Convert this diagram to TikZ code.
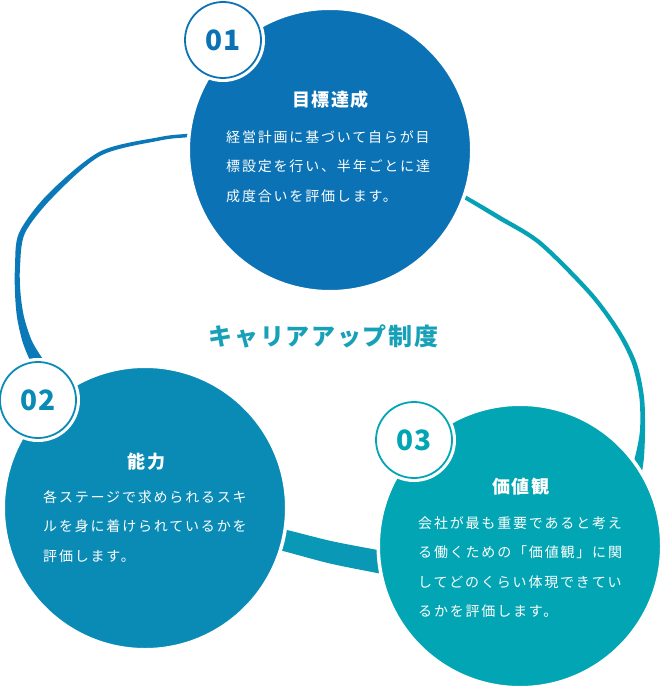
\documentclass[tikz,border=0pt]{standalone}
\usepackage{fontspec}
\newfontfamily\jpbody[LetterSpace=13]{Noto Sans CJK JP}
\newfontfamily\jphead[LetterSpace=8]{Noto Sans CJK JP}
\newfontfamily\jptitle[LetterSpace=7]{Noto Sans CJK JP}
\newfontfamily\numfont{Noto Sans CJK JP}
\definecolor{goalblue}{HTML}{0A72B5}
\definecolor{skillblue}{HTML}{0A8BB6}
\definecolor{valueteal}{HTML}{02A5B3}
\definecolor{ringblue}{HTML}{0B79B8}
\definecolor{ringmid}{HTML}{0998B6}
\definecolor{ringteal}{HTML}{05A2B5}
\definecolor{headteal}{HTML}{17A1B8}

\begin{document}
\begin{tikzpicture}[x=1pt,y=-1pt,
  disc/.style={circle,draw=white,line width=3.5pt,minimum size=283.5pt,inner sep=0pt},
  badge/.style={circle,fill=white,line width=1.8pt,minimum size=76pt,inner sep=0pt,
    preaction={draw=white,line width=8pt},font=\numfont\bfseries\fontsize{28}{28}\selectfont},
  headtext/.style={text=white,inner sep=0pt,font=\jphead\bfseries\fontsize{18}{18}\selectfont},
  bodytext/.style={text=white,inner sep=0pt,align=left,anchor=north west,
    font=\jpbody\fontsize{14}{29.5}\selectfont}]
\useasboundingbox (0,0) rectangle (665,692);
\fill[ringblue] plot[smooth] coordinates {(205,132.3) (185,134) (160,137) (100,151.5) (48,194) (19,233) (15,267) (15,293) (17,317) (22,340) (28.5,357) (38,375)}
  -- plot[smooth] coordinates {(54,373) (41.5,357) (31.5,340) (24,317) (20.5,293) (20,267) (25,233) (53,197) (101,155.5) (160,140.5) (185,137.5) (205,136)} -- cycle;
\fill[ringteal] plot[smooth] coordinates {(450,187.5) (465,195) (500,215.5) (541.5,241.5) (591.5,291.5) (620,330) (636.7,363) (644,397) (645,430) (644,457) (641,478)}
  -- plot[smooth] coordinates {(628,478) (635,457) (640,430) (639.3,397) (631.7,363) (615.5,331) (588.5,294.5) (538.5,244.5) (498,219.5) (463,198.5) (448,191)} -- cycle;
\fill[ringmid] plot[smooth] coordinates {(266,526) (287,530) (331,541) (375,549.5) (394,553)}
  -- plot[smooth] coordinates {(396,577) (377,573) (330,563.5) (283,551) (264,547)} -- cycle;

\node[disc,fill=goalblue] (goal) at (330,150) {};
\node[disc,fill=skillblue] (skill) at (145,508) {};
\node[disc,fill=valueteal] (value) at (520,546) {};

\node[badge,draw=goalblue,text=goalblue] (num1) at (223,40) {01};
\node[badge,draw=skillblue,text=skillblue] (num2) at (38,400) {02};
\node[badge,draw=valueteal,text=valueteal] (num3) at (414,440) {03};

\node[text=headteal,inner sep=0pt,font=\jptitle\bfseries\fontsize{24}{24}\selectfont] (career) at (323.5,336) {キャリアアップ制度};

\node[headtext] (goalhead) at (330.7,100) {目標達成};
\node[bodytext] (goaltext) at (226,130) {経営計画に基づいて自らが目\\標設定を行い、半年ごとに達\\成度合いを評価します。};
\node[headtext] (skillhead) at (146.7,462) {能力};
\node[bodytext] (skilltext) at (43,490) {各ステージで求められるスキ\\ルを身に着けられているかを\\評価します。};
\node[headtext] (valuehead) at (520.7,487) {価値観};
\node[bodytext] (valuetext) at (418,516) {会社が最も重要であると考え\\る働くための「価値観」に関\\してどのくらい体現できてい\\るかを評価します。};
\end{tikzpicture}
\end{document}
